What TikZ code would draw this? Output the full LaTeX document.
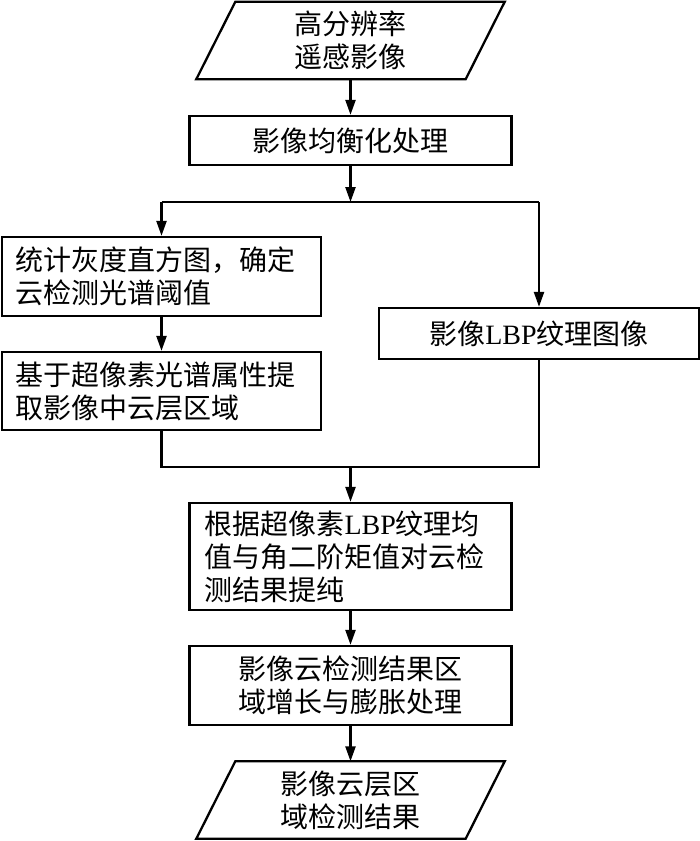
\documentclass[tikz,border=0pt]{standalone}
\usepackage{fontspec}
\setmainfont{Liberation Serif}
\newfontfamily\cjk{Noto Sans CJK SC}
\usetikzlibrary{arrows.meta,calc}
\tikzset{
  base/.style={font=\cjk\fontsize{28}{33}\selectfont, inner sep=0pt},
  boxc/.style={base, draw, line width=2.3pt, align=center},
  boxl/.style={base, draw, line width=2.3pt, align=left, text width=#1},
  para/.style={base, align=center, minimum width=308pt, minimum height=77pt},
  arr/.style={-{Triangle[length=15pt,width=10pt]}, line width=2.3pt},
  ln/.style={line width=2.3pt}
}
\begin{document}
\begin{tikzpicture}[x=1pt,y=-1pt]
\useasboundingbox (0,0) rectangle (700,841);
\fill[white] (0,0) rectangle (700,841);

\node[para] (p1) at (350.5,40.5) {高分辨率\\遥感影像};
\draw[ln] ($(p1.north west)+(39,0)$) -- (p1.north east) -- ($(p1.south east)-(39,0)$) -- (p1.south west) -- cycle;

\node[boxc, minimum width=322pt, minimum height=49pt] (b1) at (350.5,140.5) {影像均衡化处理};

\node[boxl=291pt, minimum width=319pt, minimum height=79pt] (l1) at (161.5,276.5) {统计灰度直方图，确定\\云检测光谱阈值};
\node[boxc, minimum width=320pt, minimum height=51pt] (r1) at (539,333.5) {影像{\rmfamily LBP}纹理图像};
\node[boxl=291pt, minimum width=319pt, minimum height=78pt] (l2) at (161.5,391) {基于超像素光谱属性提\\取影像中云层区域};

\node[boxl=292pt, minimum width=322pt, minimum height=107pt] (b2) at (350.5,556.5) {根据超像素{\rmfamily LBP}纹理均\\值与角二阶矩值对云检\\测结果提纯};
\node[boxc, minimum width=322pt, minimum height=79pt] (b3) at (350.5,685.5) {影像云检测结果区\\域增长与膨胀处理};

\node[para] (p2) at (350.5,800) {影像云层区\\域检测结果};
\draw[ln] ($(p2.north west)+(39,0)$) -- (p2.north east) -- ($(p2.south east)-(39,0)$) -- (p2.south west) -- cycle;

\coordinate (sl) at (161.5,202);
\coordinate (sr) at (539,202);
\coordinate (ml) at (161.5,467);
\coordinate (mr) at (539,467);

\draw[arr] (p1) -- (b1);
\draw[arr] (b1.south) -- (b1.south |- sl);
\draw[ln] (sl) -- (sr);
\draw[arr] (sl) -- (l1.north);
\draw[arr] (sr) -- (r1.north);
\draw[arr] (l1) -- (l2);
\draw[ln] (l2.south) -- (ml) -- (mr) -- (r1.south);
\draw[arr] (b2.north |- ml) -- (b2.north);
\draw[arr] (b2) -- (b3);
\draw[arr] (b3) -- (p2);
\end{tikzpicture}
\end{document}
